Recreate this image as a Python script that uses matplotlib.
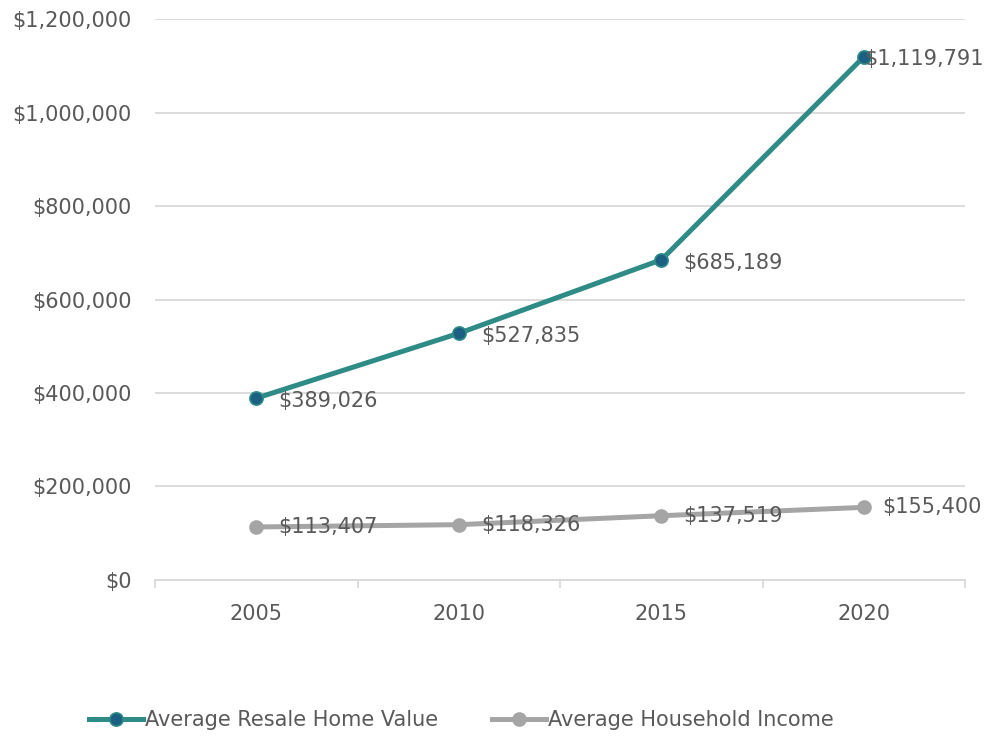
import matplotlib.pyplot as plt
from matplotlib.ticker import FuncFormatter, FixedLocator

years = ["2005", "2010", "2015", "2020"]
home_value = [389026, 527835, 685189, 1119791]
household_income = [113407, 118326, 137519, 155400]

teal = "#2e8b86"
marker_blue = "#1b5f82"
gray = "#a5a5a5"
text_col = "#595959"
grid_col = "#d9d9d9"

plt.rcParams["font.family"] = ["DejaVu Sans"]

fig = plt.figure(figsize=(9.88, 7.36), dpi=100)
ax = fig.add_axes([0.157, 0.212, 0.820, 0.762])

x = range(len(years))
ax.plot(x, home_value, color=teal, lw=3.6, marker="o", ms=9.5,
        mfc=marker_blue, mec=teal, mew=1.2, zorder=3,
        label="Average Resale Home Value")
ax.plot(x, household_income, color=gray, lw=3.6, marker="o", ms=9.5,
        mfc=gray, mec=gray, zorder=3, label="Average Household Income")

# data labels to the right of each point
for i, v in enumerate(home_value):
    dx = 0 if i == len(years) - 1 else 16
    ax.annotate(f"${v:,.0f}", (i, v), xytext=(dx, -2), textcoords="offset points",
                ha="left", va="center", fontsize=15, color=text_col, zorder=5)
for i, v in enumerate(household_income):
    dx = 13 if i == len(years) - 1 else 16
    ax.annotate(f"${v:,.0f}", (i, v), xytext=(dx, 0), textcoords="offset points",
                ha="left", va="center", fontsize=15, color=text_col, zorder=5)

ax.set_xlim(-0.5, len(years) - 0.5)
ax.set_ylim(0, 1200000)
ax.set_yticks(range(0, 1200001, 200000))
ax.yaxis.set_major_formatter(FuncFormatter(lambda v, p: f"${v:,.0f}"))
ax.grid(axis="y", color=grid_col, lw=1.3, zorder=0)
ax.set_axisbelow(True)

ax.set_xticks(list(x))
ax.set_xticklabels(years)
ax.xaxis.set_minor_locator(FixedLocator([i - 0.5 for i in range(len(years) + 1)]))
ax.tick_params(axis="x", which="major", length=0, pad=17, labelsize=15, labelcolor=text_col)
ax.tick_params(axis="x", which="minor", length=6, width=1.3, color=grid_col)
ax.tick_params(axis="y", length=0, pad=17, labelsize=15, labelcolor=text_col)

for side in ["top", "right", "left"]:
    ax.spines[side].set_visible(False)
ax.spines["bottom"].set_color(grid_col)
ax.spines["bottom"].set_linewidth(1.3)

leg = fig.legend(loc="center", bbox_to_anchor=(0.467, 0.022), ncol=2, frameon=False,
                 handlelength=2.6, handletextpad=0.1, columnspacing=2.6,
                 prop={"family": ["DejaVu Sans Condensed", "Liberation Sans Narrow", "DejaVu Sans"],
                       "size": 15})
for t in leg.get_texts():
    t.set_color(text_col)

fig.savefig("out.png", dpi=100)
